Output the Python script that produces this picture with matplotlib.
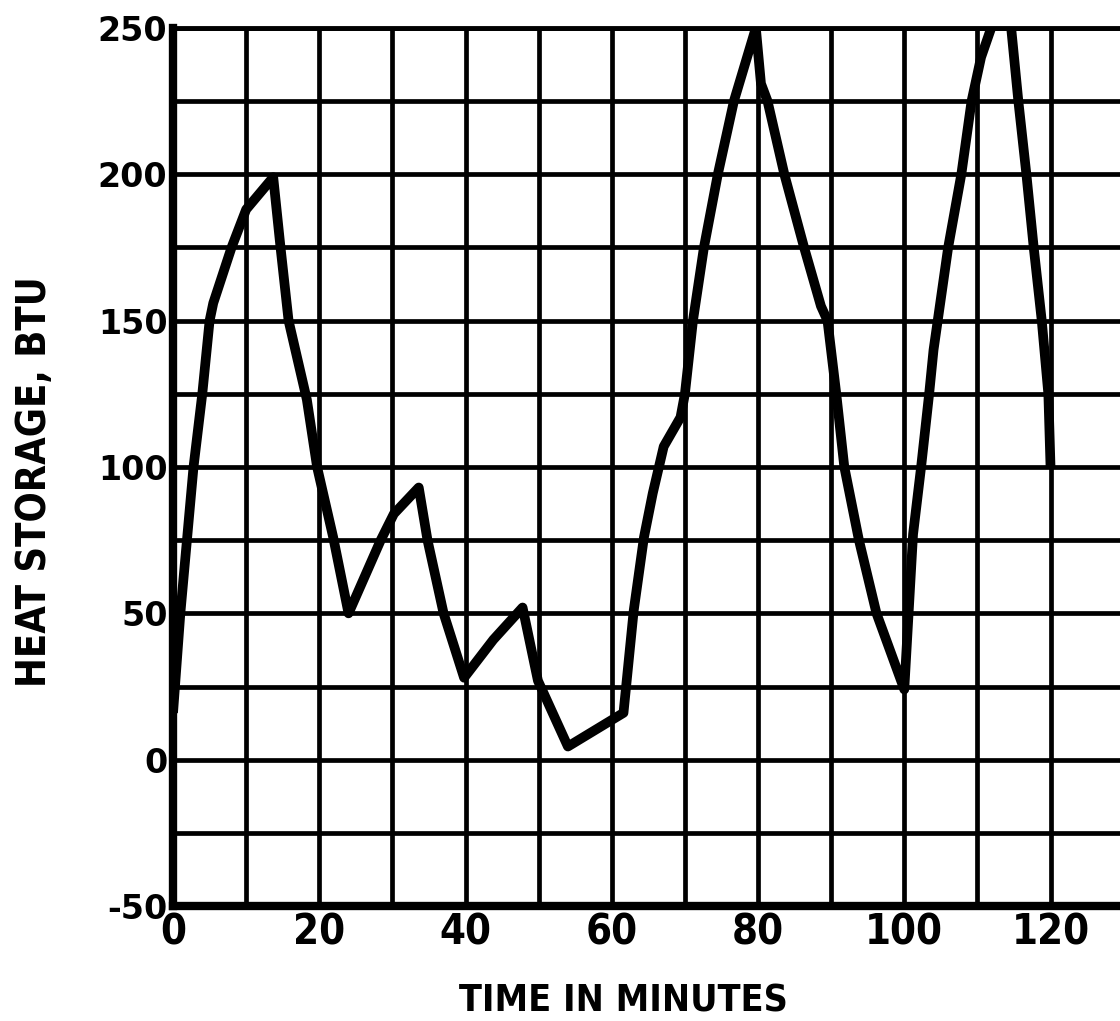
import matplotlib
matplotlib.use("Agg")
import matplotlib.pyplot as plt
from matplotlib import font_manager

# heat storage curve (minutes, BTU)
time_min = [0, 1, 1.9, 2.8, 4, 5, 5.5, 8, 10, 13.7, 14.7, 15.8, 18.3, 19.7, 21.9, 24,
            28.4, 30.2, 33.6, 34.8, 37, 39.8, 43.8, 47.8, 49.9, 54, 61.6,
            63, 64.4, 65.6, 67.1, 69.4, 70, 71.1, 72.6, 74.5, 76.7, 79.7,
            80.4, 81.3, 83.6, 86.3, 88.6, 89.5, 90.7, 91.8, 93.8, 96.2, 100,
            101.2, 102.3, 103.4, 104, 106, 107.8, 109.2, 110.5, 112.3, 114.5,
            115.6, 116.7, 117.7, 118.8, 119.7, 120]
heat_btu = [16, 50, 75, 100, 125, 150, 156, 175, 188, 199, 175, 150, 123, 100, 76, 50,
            75, 84, 93, 75, 50, 28, 41, 52, 27, 4.5, 16,
            51, 76, 91, 107, 117, 125, 150, 175, 200, 225, 250,
            231, 225, 200, 175, 155, 150, 125, 100, 75, 50, 24,
            77, 100, 125, 140, 175, 200, 225, 240, 253, 253,
            225, 200, 175, 150, 125, 100]

x_ticks = [0, 20, 40, 60, 80, 100, 120]
y_ticks = [-50, 0, 50, 100, 150, 200, 250]

plt.rcParams['axes.unicode_minus'] = False

# condensed bold face for the axis titles and x tick labels
cond = [f.fname for f in font_manager.fontManager.ttflist
        if 'Condensed' in f.fname and 'Bold' in f.fname and 'DejaVuSans' in f.fname
        and 'Oblique' not in f.fname]
if cond:
    narrow = dict(fname=cond[0])
else:
    narrow = dict(family='DejaVu Sans', weight='bold', stretch='condensed')

fig = plt.figure(figsize=(11.2, 10.21), dpi=100)
ax = fig.add_axes([0.1545, 0.1126, 0.8455, 0.86])

ax.plot(time_min, heat_btu, color='black', linewidth=7, solid_joinstyle='round',
        solid_capstyle='butt', zorder=3)

ax.set_xlim(0, 129.5)
ax.set_ylim(-50, 250)

ax.set_xticks(x_ticks)
ax.set_yticks(y_ticks)
ax.set_xticks(range(0, 130, 10), minor=True)
ax.set_yticks(range(-50, 251, 25), minor=True)
ax.grid(which='both', color='black', linewidth=3.4)
ax.tick_params(which='both', length=0)
ax.tick_params(axis='x', pad=4)
ax.tick_params(axis='y', pad=4)

xfp = font_manager.FontProperties(size=30, **narrow)
for lbl in ax.get_xticklabels():
    lbl.set_fontproperties(xfp)
for lbl in ax.get_yticklabels():
    lbl.set_family('DejaVu Sans')
    lbl.set_fontsize(24)
    lbl.set_fontweight('bold')

for side in ['left', 'bottom']:
    ax.spines[side].set_linewidth(6)
ax.spines['top'].set_linewidth(3.5)
ax.spines['right'].set_visible(False)

ax.set_xlabel('TIME IN MINUTES', fontproperties=font_manager.FontProperties(size=27, **narrow))
ax.xaxis.set_label_coords(0.476, -0.088)
ax.set_ylabel('HEAT STORAGE, BTU', fontproperties=font_manager.FontProperties(size=28.5, **narrow))
ax.yaxis.set_label_coords(-0.125, 0.483)

fig.savefig('out.png', dpi=100)
